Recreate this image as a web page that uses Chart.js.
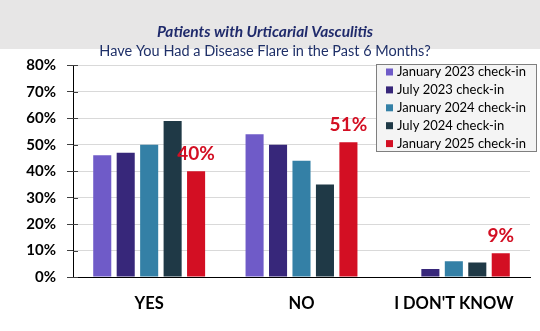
<!DOCTYPE html>
<html>
<head>
<meta charset="utf-8">
<script src="https://cdn.jsdelivr.net/npm/chart.js@4/dist/chart.umd.min.js"></script>
<style>
  html, body { margin: 0; padding: 0; background: #ffffff; }
  #wrap { width: 540px; height: 331px; position: relative; }
</style>
</head>
<body>
<div id="wrap"><canvas id="c" width="540" height="331"></canvas></div>
<script>
const categories = ["YES", "NO", "I DON'T KNOW"];
const seriesLabels = ["January 2023 check-in", "July 2023 check-in", "January 2024 check-in", "July 2024 check-in", "January 2025 check-in"];
const jan2023 = [46, 54, 0];
const jul2023 = [47, 50, 3];
const jan2024 = [50, 44, 6];
const jul2024 = [59, 35, 5.5];
const jan2025 = [40, 51, 9];
const yTicks = [0, 10, 20, 30, 40, 50, 60, 70, 80];
const titleText = "Patients with Urticarial Vasculitis";
const subtitleText = "Have You Had a Disease Flare in the Past 6 Months?";

const colors = ["#6f5bc8", "#37277a", "#3480a6", "#1f3946", "#d30f23"];
const FONT = "Lato, 'Open Sans', sans-serif";

const seriesValues = [jan2023, jul2023, jan2024, jul2024, jan2025];

const headerPlugin = {
  id: 'header',
  beforeDraw(chart) {
    const ctx = chart.ctx;
    ctx.save();
    ctx.fillStyle = '#ffffff';
    ctx.fillRect(0, 0, chart.width, chart.height);
    ctx.fillStyle = '#e7e6e6';
    ctx.fillRect(0, 0, chart.width, 49);
    ctx.restore();
  }
};

const extrasPlugin = {
  id: 'extras',
  afterDraw(chart) {
    const ctx = chart.ctx;
    const y = chart.scales.y;
    const area = chart.chartArea;
    ctx.save();
    ctx.strokeStyle = '#404040';
    ctx.lineWidth = 1;
    yTicks.forEach(v => {
      const py = Math.round(y.getPixelForValue(v)) + 0.5;
      ctx.beginPath();
      ctx.moveTo(area.left, py);
      ctx.lineTo(area.left + 5, py);
      ctx.stroke();
    });
    const last = chart.data.datasets.length - 1;
    const meta = chart.getDatasetMeta(last);
    ctx.fillStyle = colors[last];
    ctx.font = "bold 19px " + FONT;
    ctx.textAlign = 'center';
    ctx.textBaseline = 'bottom';
    meta.data.forEach((el, i) => {
      const v = chart.data.datasets[last].data[i];
      ctx.fillText(v + '%', el.x, el.y - 8);
    });
    const lx = 376, ly = 64, lw = 160, lh = 87;
    ctx.fillStyle = '#f4f4f4';
    ctx.fillRect(lx, ly, lw, lh);
    ctx.strokeStyle = '#7f7f7f';
    ctx.lineWidth = 1;
    ctx.strokeRect(lx + 0.5, ly + 0.5, lw, lh);
    ctx.font = "13px " + FONT;
    ctx.textAlign = 'left';
    ctx.textBaseline = 'middle';
    chart.data.datasets.forEach((ds, i) => {
      const cy = ly + 8 + i * 17.9;
      ctx.fillStyle = ds.backgroundColor;
      ctx.fillRect(lx + 10, cy - 3.5, 7, 7);
      ctx.fillStyle = '#000000';
      ctx.fillText(ds.label, lx + 21, cy);
    });
    ctx.restore();
  }
};

new Chart(document.getElementById('c'), {
  type: 'bar',
  data: {
    labels: categories,
    datasets: seriesLabels.map((lab, i) => ({
      label: lab,
      data: seriesValues[i],
      backgroundColor: colors[i],
      borderWidth: 0,
      categoryPercentage: 0.77,
      barPercentage: 0.77
    }))
  },
  options: {
    responsive: false,
    animation: false,
    devicePixelRatio: 1,
    layout: { padding: { top: 16, right: 10, bottom: 0, left: 0 } },
    plugins: {
      legend: { display: false },
      tooltip: { enabled: false },
      title: {
        display: true,
        text: titleText,
        color: '#1f2a6b',
        font: { family: FONT, size: 15.5, weight: 'bold', style: 'italic', lineHeight: 1.12 },
        padding: { top: 7, bottom: 0 }
      },
      subtitle: {
        display: true,
        text: subtitleText,
        color: '#1f3068',
        font: { family: FONT, size: 14.5, weight: 'normal', lineHeight: 1.18 },
        padding: { top: 2, bottom: 6 }
      }
    },
    scales: {
      x: {
        grid: { display: false, drawTicks: false },
        border: { display: true, color: '#000000', width: 1 },
        ticks: {
          color: '#000000',
          font: { family: FONT, size: 16.5, weight: 'bold' },
          padding: 17
        },
        afterFit(scale) { scale.height = 54; }
      },
      y: {
        min: 0,
        max: 80,
        afterBuildTicks(scale) { scale.ticks = yTicks.map(v => ({ value: v })); },
        grid: { color: '#d9d9d9', tickColor: '#404040', tickLength: 6, drawTicks: true },
        border: { display: true, color: '#000000', width: 1 },
        ticks: {
          color: '#000000',
          font: { family: FONT, size: 15, weight: 'bold' },
          padding: 11,
          callback: v => v + '%'
        },
        afterFit(scale) { scale.width = 73; }
      }
    }
  },
  plugins: [headerPlugin, extrasPlugin]
});
</script>
</body>
</html>
